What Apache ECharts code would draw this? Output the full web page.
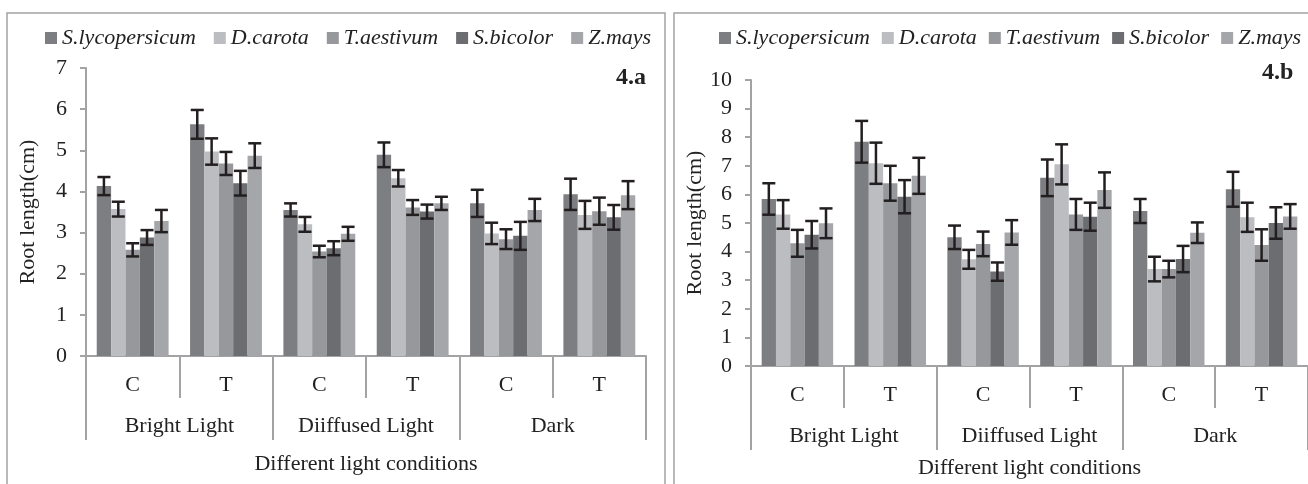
<!DOCTYPE html>
<html>
<head>
<meta charset="utf-8">
<title>Root length</title>
<script src="https://cdn.jsdelivr.net/npm/echarts/dist/echarts.min.js"></script>
<style>
    html, body { margin: 0; padding: 0; background: #fff; overflow: hidden; }
    #echarts { width: 1308px; height: 484px; }
</style>
</head>
<body>
<div id="echarts"></div>
<script>
// categories
var treatments = ['C', 'T', 'C', 'T', 'C', 'T']
var lights = ['Bright Light', 'Diiffused Light', 'Dark']
var speciesNames = ['S.lycopersicum', 'D.carota', 'T.aestivum', 'S.bicolor', 'Z.mays']

// 4.a  means and error
var slyA = [4.13, 5.63, 3.55, 4.89, 3.71, 3.93]
var dcaA = [3.57, 4.97, 3.20, 4.32, 2.98, 3.43]
var taeA = [2.58, 4.68, 2.54, 3.61, 2.84, 3.52]
var sbiA = [2.88, 4.20, 2.62, 3.51, 2.92, 3.37]
var zmaA = [3.28, 4.87, 2.97, 3.71, 3.55, 3.91]
var slyAErr = [0.22, 0.35, 0.16, 0.30, 0.33, 0.38]
var dcaAErr = [0.18, 0.32, 0.18, 0.20, 0.26, 0.34]
var taeAErr = [0.16, 0.28, 0.14, 0.18, 0.24, 0.33]
var sbiAErr = [0.18, 0.30, 0.17, 0.17, 0.34, 0.30]
var zmaAErr = [0.27, 0.30, 0.17, 0.16, 0.27, 0.34]

// 4.b  means and error
var slyB = [5.84, 7.84, 4.50, 6.58, 5.42, 6.18]
var dcaB = [5.30, 7.09, 3.73, 7.05, 3.39, 5.20]
var taeB = [4.29, 6.39, 4.27, 5.30, 3.39, 4.23]
var sbiB = [4.59, 5.92, 3.30, 5.22, 3.74, 5.00]
var zmaB = [4.99, 6.65, 4.67, 6.15, 4.66, 5.23]
var slyBErr = [0.55, 0.73, 0.41, 0.64, 0.42, 0.61]
var dcaBErr = [0.50, 0.72, 0.33, 0.70, 0.43, 0.51]
var taeBErr = [0.47, 0.61, 0.43, 0.54, 0.29, 0.55]
var sbiBErr = [0.48, 0.58, 0.32, 0.49, 0.46, 0.55]
var zmaBErr = [0.52, 0.63, 0.43, 0.62, 0.36, 0.43]

var colors = ['#7d7e82', '#bcbdc1', '#97989c', '#6c6d71', '#a5a6aa']
var font = '"Liberation Serif", "Times New Roman", serif'
var axisGray = '#a3a3a6'
var catGap = 0.23

var myChart = echarts.init(document.getElementById('echarts'));

function panelSeries(means, errs, xIdx, yIdx) {
    var list = []
    means.forEach(function (vals, k) {
        list.push({
            name: speciesNames[k],
            type: 'bar',
            xAxisIndex: xIdx,
            yAxisIndex: yIdx,
            barGap: 0,
            barCategoryGap: (catGap * 100) + '%',
            itemStyle: { color: colors[k] },
            data: vals
        })
    })
    // error bars, shifted onto their own bar
    means.forEach(function (vals, k) {
        var errData = vals.map(function (v, i) {
            return [i, v - errs[k][i], v + errs[k][i]]
        })
        list.push({
            name: speciesNames[k],
            type: 'custom',
            xAxisIndex: xIdx,
            yAxisIndex: yIdx,
            z: 5,
            silent: true,
            encode: { x: 0, y: [1, 2] },
            renderItem: function (params, api) {
                var idx = api.value(0)
                var lo = api.coord([idx, api.value(1)])
                var hi = api.coord([idx, api.value(2)])
                var band = api.size([1, 0])[0]
                var bw = band * (1 - catGap) / 5
                var x = lo[0] + (k - 2) * bw
                var cap = 6.5
                var st = { stroke: '#231f20', lineWidth: 2.5 }
                return {
                    type: 'group',
                    children: [
                        { type: 'line', shape: { x1: x, y1: hi[1], x2: x, y2: lo[1] }, style: st },
                        { type: 'line', shape: { x1: x - cap, y1: hi[1], x2: x + cap, y2: hi[1] }, style: st },
                        { type: 'line', shape: { x1: x - cap, y1: lo[1], x2: x + cap, y2: lo[1] }, style: st }
                    ]
                }
            },
            data: errData
        })
    })
    return list
}

function ctAxis(grid) {
    return {
        type: 'category',
        gridIndex: grid,
        data: treatments,
        axisLine: { show: true, lineStyle: { color: axisGray, width: 2 } },
        axisTick: { show: true, length: 42, interval: 0, lineStyle: { color: axisGray, width: 2 } },
        axisLabel: { margin: 18, color: '#222', fontFamily: font, fontSize: 22 }
    }
}

function lightAxis(grid, gap) {
    return {
        type: 'category',
        gridIndex: grid,
        data: lights,
        position: 'bottom',
        axisLine: { show: false },
        axisTick: { show: true, length: 84, interval: 0, lineStyle: { color: axisGray, width: 2 } },
        axisLabel: { margin: 59, color: '#222', fontFamily: font, fontSize: 22 },
        name: 'Different light conditions',
        nameLocation: 'middle',
        nameGap: gap,
        nameTextStyle: { color: '#222', fontFamily: font, fontSize: 22 }
    }
}

function valAxis(grid, max, gap) {
    return {
        type: 'value',
        gridIndex: grid,
        min: 0,
        max: max,
        interval: 1,
        splitLine: { show: false },
        axisLine: { show: true, lineStyle: { color: axisGray, width: 2 } },
        axisTick: { show: true, length: 6, lineStyle: { color: axisGray, width: 2 } },
        axisLabel: { margin: 19, color: '#222', fontFamily: font, fontSize: 22 },
        name: 'Root length(cm)',
        nameLocation: 'middle',
        nameRotate: 90,
        nameGap: gap,
        nameTextStyle: { color: '#222', fontFamily: font, fontSize: 22 }
    }
}

function legendAt(left, gap) {
    return {
        left: left,
        top: 22,
        icon: 'rect',
        itemWidth: 12,
        itemHeight: 12,
        itemGap: gap,
        data: speciesNames,
        textStyle: { fontFamily: font, fontStyle: 'italic', fontSize: 22, color: '#222', padding: [0, 0, 0, 0] }
    }
}

var series = panelSeries([slyA, dcaA, taeA, sbiA, zmaA], [slyAErr, dcaAErr, taeAErr, sbiAErr, zmaAErr], 0, 0)
    .concat(panelSeries([slyB, dcaB, taeB, sbiB, zmaB], [slyBErr, dcaBErr, taeBErr, sbiBErr, zmaBErr], 2, 1))

var option = {
    animation: false,
    backgroundColor: '#fff',
    legend: [legendAt(40, 18), legendAt(714, 12)],
    grid: [
        { left: 86, top: 68, width: 560, height: 288 },
        { left: 751, top: 80, width: 560, height: 286 }
    ],
    xAxis: [ctAxis(0), lightAxis(0, 97), ctAxis(1), lightAxis(1, 91)],
    yAxis: [valAxis(0, 7, 47), valAxis(1, 10, 43)],
    graphic: [
        { type: 'rect', shape: { x: 7, y: 13, width: 658, height: 500 }, style: { fill: 'none', stroke: axisGray, lineWidth: 1.5 } },
        { type: 'rect', shape: { x: 674, y: 13, width: 660, height: 500 }, style: { fill: 'none', stroke: axisGray, lineWidth: 1.5 } },
        { type: 'text', right: 1308 - 646, top: 66, style: { text: '4.a', font: 'bold 24px ' + font, fill: '#222' } },
        { type: 'text', left: 1262, top: 61, style: { text: '4.b', font: 'bold 24px ' + font, fill: '#222' } }
    ],
    series: series
};

myChart.setOption(option);
</script>
</body>
</html>
